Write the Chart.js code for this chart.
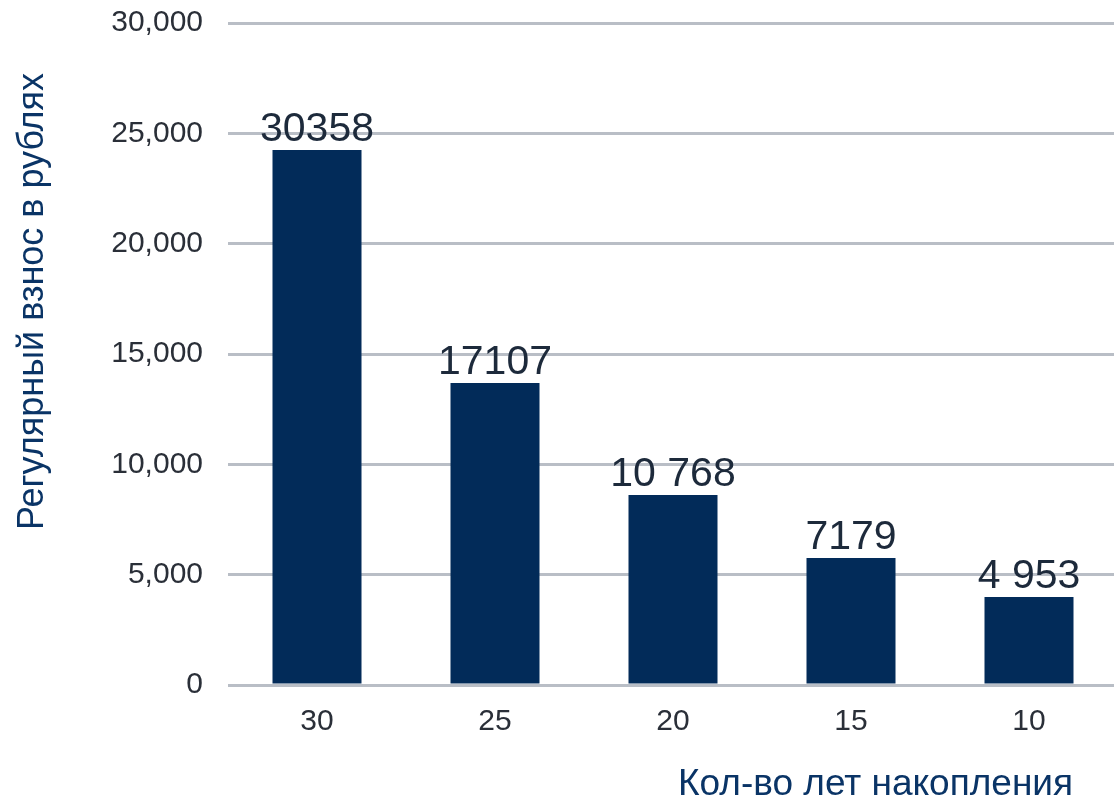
<!DOCTYPE html>
<html>
<head>
<meta charset="utf-8">
<script src="https://cdn.jsdelivr.net/npm/chart.js@4/dist/chart.umd.min.js"></script>
<style>
html,body{margin:0;padding:0;background:#fff;overflow:hidden;}
#wrap{width:1118px;height:800px;}
</style>
</head>
<body>
<div id="wrap"><canvas id="chart" width="1118" height="800"></canvas></div>
<script>
/* ================= DATA ================= */
const years=["30","25","20","15","10"];
const payments=[24250,13690,8610,5760,3990];
const valueLabels=["30358","17107","10 768","7179","4 953"];

const yTitle="Регулярный взнос в рублях";
const xTitle="Кол-во лет накопления";

const FONT="'Liberation Sans', Arial, sans-serif";

/* ================= LABELS ON BARS ================= */
const barLabels={
id:"barLabels",
afterDatasetsDraw(chart){
const ctx=chart.ctx;
const meta=chart.getDatasetMeta(0);
ctx.save();
ctx.font="41px "+FONT;
ctx.fillStyle="#1d2a3b";
ctx.textAlign="center";
ctx.textBaseline="alphabetic";
meta.data.forEach((bar,i)=>{
ctx.fillText(valueLabels[i],bar.x,bar.y-9);
});
ctx.restore();
}
};

/* ================= AXIS TITLES ================= */
const axisTitles={
id:"axisTitles",
afterDraw(chart){
const ctx=chart.ctx;
ctx.save();
ctx.fillStyle="#0a3466";
ctx.textBaseline="alphabetic";
ctx.textAlign="left";
ctx.font="37px "+FONT;
ctx.fillText(xTitle,678,795);
ctx.font="36px "+FONT;
ctx.translate(43,530);
ctx.rotate(-Math.PI/2);
ctx.fillText(yTitle,0,0);
ctx.restore();
}
};

new Chart(
document.getElementById("chart"),
{
type:"bar",
data:{
labels:years,
datasets:[{
data:payments,
backgroundColor:"#022b59",
borderWidth:0,
categoryPercentage:1,
barPercentage:0.5
}]
},
options:{
responsive:false,
animation:false,
layout:{
padding:{top:23,right:0,bottom:0,left:0}
},
plugins:{
legend:{display:false},
tooltip:{enabled:false}
},
scales:{
x:{
grid:{display:false,drawTicks:false},
border:{display:false},
ticks:{
color:"#2a2f38",
font:{family:FONT,size:30},
padding:19
},
afterFit(scale){
scale.height=115;
scale.paddingLeft=0;
scale.paddingRight=0;
}
},
y:{
min:0,
max:30000,
grid:{
color:"#b9bec6",
lineWidth:3,
drawTicks:false
},
border:{display:false},
ticks:{
stepSize:5000,
color:"#2a2f38",
font:{family:FONT,size:30},
padding:25,
callback:(v)=>Number(v).toLocaleString("en-US")
},
afterFit(scale){
scale.width=228;
scale.paddingTop=0;
scale.paddingBottom=0;
}
}
}
},
plugins:[barLabels,axisTitles]
}
);
</script>
</body>
</html>
